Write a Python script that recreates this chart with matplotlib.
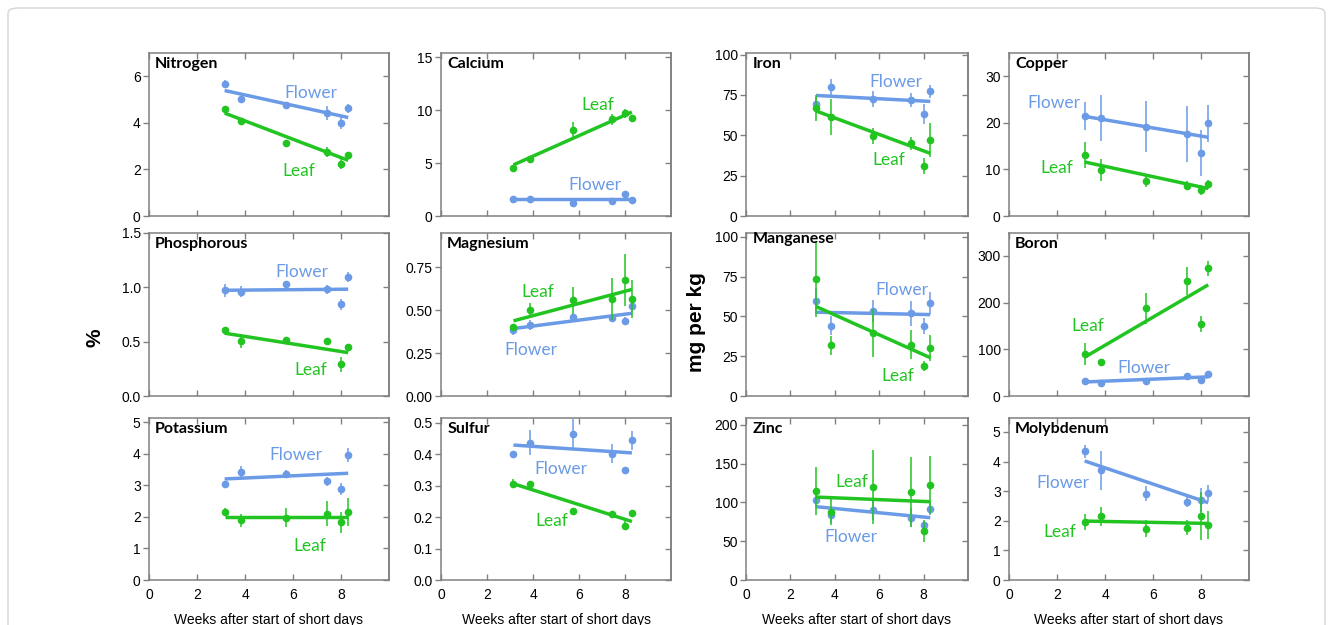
import matplotlib
matplotlib.use("Agg")
import matplotlib.pyplot as plt
from matplotlib.patches import FancyBboxPatch

plt.rcParams["font.family"] = ["Liberation Sans", "DejaVu Sans"]

# ---------------- data ----------------
weeks = [3.15, 3.85, 5.72, 7.43, 8.0, 8.3]
trend_weeks = [3.15, 8.3]
x_ticks = [0, 2, 4, 6, 8]

nitrogen_flower = [5.68, 5.03, 4.77, 4.42, 3.99, 4.62]
nitrogen_flower_err = [0.15, 0.12, 0.07, 0.3, 0.25, 0.2]
nitrogen_leaf = [4.59, 4.09, 3.12, 2.75, 2.25, 2.64]
nitrogen_leaf_err = [0.1, 0.08, 0.15, 0.2, 0.25, 0.12]
nitrogen_flower_trend = [5.39, 4.23]
nitrogen_leaf_trend = [4.42, 2.39]

calcium_flower = [1.65, 1.56, 1.27, 1.40, 2.07, 1.50]
calcium_flower_err = [0.1, 0.1, 0.1, 0.1, 0.3, 0.1]
calcium_leaf = [4.58, 5.37, 8.1, 9.12, 9.69, 9.28]
calcium_leaf_err = [0.2, 0.2, 0.8, 0.5, 0.4, 0.3]
calcium_flower_trend = [1.59, 1.59]
calcium_leaf_trend = [4.83, 9.82]

iron_flower = [69.5, 79.9, 72.4, 72.0, 63.3, 77.2]
iron_flower_err = [4, 5, 5, 4.5, 6, 4]
iron_leaf = [66.8, 61.2, 49.6, 45.0, 31.1, 47.1]
iron_leaf_err = [8, 11, 5, 4, 5, 10.5]
iron_flower_trend = [74.7, 71.0]
iron_leaf_trend = [65.1, 38.8]

copper_flower = [21.4, 21.0, 19.2, 17.7, 13.5, 19.9]
copper_flower_err = [3, 5, 5.5, 6, 5, 4]
copper_leaf = [13.1, 9.9, 7.5, 6.5, 5.6, 6.8]
copper_leaf_err = [2.7, 2.3, 1.2, 1.0, 1.0, 1.0]
copper_flower_trend = [21.4, 16.9]
copper_leaf_trend = [11.6, 5.9]

phosphorous_flower = [0.973, 0.958, 1.028, 0.983, 0.846, 1.095]
phosphorous_flower_err = [0.06, 0.05, 0.01, 0.04, 0.05, 0.05]
phosphorous_leaf = [0.608, 0.502, 0.517, 0.502, 0.292, 0.45]
phosphorous_leaf_err = [0.01, 0.06, 0.02, 0.01, 0.07, 0.03]
phosphorous_flower_trend = [0.973, 0.983]
phosphorous_leaf_trend = [0.578, 0.399]

magnesium_flower = [0.387, 0.413, 0.462, 0.452, 0.438, 0.522]
magnesium_flower_err = [0.03, 0.03, 0.01, 0.01, 0.025, 0.03]
magnesium_leaf = [0.40, 0.502, 0.558, 0.565, 0.675, 0.567]
magnesium_leaf_err = [0.02, 0.04, 0.08, 0.12, 0.15, 0.11]
magnesium_flower_trend = [0.393, 0.482]
magnesium_leaf_trend = [0.438, 0.621]

manganese_flower = [59.6, 44.1, 53.3, 52.0, 43.9, 58.5]
manganese_flower_err = [8, 6, 7, 8, 5, 7]
manganese_leaf = [73.5, 31.8, 39.8, 32.3, 18.9, 30.1]
manganese_leaf_err = [24, 6, 15, 9, 3, 8]
manganese_flower_trend = [52.7, 51.2]
manganese_leaf_trend = [56.3, 24.1]

boron_flower = [32, 27, 32, 42, 35, 47.5]
boron_flower_err = [2, 2, 2, 2, 3, 3]
boron_leaf = [90, 73, 188, 246, 154, 273]
boron_leaf_err = [24, 5, 33, 30, 17, 16]
boron_flower_trend = [30, 41]
boron_leaf_trend = [83, 238]

potassium_flower = [3.04, 3.43, 3.36, 3.12, 2.88, 3.97]
potassium_flower_err = [0.03, 0.17, 0.12, 0.15, 0.18, 0.22]
potassium_leaf = [2.15, 1.89, 1.97, 2.10, 1.83, 2.15]
potassium_leaf_err = [0.13, 0.2, 0.3, 0.4, 0.33, 0.45]
potassium_flower_trend = [3.20, 3.38]
potassium_leaf_trend = [2.0, 2.0]

sulfur_flower = [0.399, 0.436, 0.463, 0.401, 0.349, 0.444]
sulfur_flower_err = [0.01, 0.04, 0.05, 0.03, 0.01, 0.03]
sulfur_leaf = [0.306, 0.306, 0.22, 0.21, 0.173, 0.213]
sulfur_leaf_err = [0.015, 0.005, 0.01, 0.003, 0.015, 0.01]
sulfur_flower_trend = [0.429, 0.404]
sulfur_leaf_trend = [0.306, 0.186]

zinc_flower = [102.8, 83.4, 89.9, 80.4, 70.5, 92.0]
zinc_flower_err = [8, 10, 13, 12, 6, 8]
zinc_leaf = [114.8, 88, 120, 114, 63, 122.6]
zinc_leaf_err = [31, 17, 48, 45, 14, 37]
zinc_flower_trend = [94.6, 80.4]
zinc_leaf_trend = [107, 101]

molybdenum_flower = [4.34, 3.70, 2.92, 2.65, 2.70, 2.93]
molybdenum_flower_err = [0.22, 0.67, 0.25, 0.17, 0.42, 0.27]
molybdenum_leaf = [1.96, 2.16, 1.73, 1.77, 2.16, 1.85]
molybdenum_leaf_err = [0.27, 0.32, 0.28, 0.25, 0.8, 0.47]
molybdenum_flower_trend = [4.02, 2.61]
molybdenum_leaf_trend = [1.99, 1.91]

# ---------------- layout / styling ----------------
FLOWER = "#6b9ae6"
LEAF = "#22c422"
SPINE = "#808080"
W, H = 1332, 625

col_lr = [(149, 389), (441, 671), (746, 968), (1009, 1249)]
row_tb = [(53, 216), (233, 396), (418, 580)]

panels = [
    # title, flower, ferr, leaf, lerr, ftrend, ltrend, ytop, yticks, yticklabels, flower label pos, leaf label pos
    ("Nitrogen", nitrogen_flower, nitrogen_flower_err, nitrogen_leaf, nitrogen_leaf_err,
     nitrogen_flower_trend, nitrogen_leaf_trend, 7.0, [0, 2, 4, 6], ["0", "2", "4", "6"],
     (6.75, 5.3), (6.25, 1.95)),
    ("Calcium", calcium_flower, calcium_flower_err, calcium_leaf, calcium_leaf_err,
     calcium_flower_trend, calcium_leaf_trend, 15.4, [0, 5, 10, 15], ["0", "5", "10", "15"],
     (6.7, 2.9), (6.8, 10.5)),
    ("Iron", iron_flower, iron_flower_err, iron_leaf, iron_leaf_err,
     iron_flower_trend, iron_leaf_trend, 101, [0, 25, 50, 75, 100], ["0", "25", "50", "75", "100"],
     (6.75, 82.8), (6.45, 35)),
    ("Copper", copper_flower, copper_flower_err, copper_leaf, copper_leaf_err,
     copper_flower_trend, copper_leaf_trend, 35, [0, 10, 20, 30], ["0", "10", "20", "30"],
     (1.85, 24.2), (2.0, 10.2)),
    ("Phosphorous", phosphorous_flower, phosphorous_flower_err, phosphorous_leaf, phosphorous_leaf_err,
     phosphorous_flower_trend, phosphorous_leaf_trend, 1.5, [0, 0.5, 1.0, 1.5], ["0.0", "0.5", "1.0", "1.5"],
     (6.35, 1.14), (6.75, 0.237)),
    ("Magnesium", magnesium_flower, magnesium_flower_err, magnesium_leaf, magnesium_leaf_err,
     magnesium_flower_trend, magnesium_leaf_trend, 0.95, [0, 0.25, 0.5, 0.75], ["0.00", "0.25", "0.50", "0.75"],
     (3.9, 0.268), (4.2, 0.607)),
    ("Manganese", manganese_flower, manganese_flower_err, manganese_leaf, manganese_leaf_err,
     manganese_flower_trend, manganese_leaf_trend, 102.5, [0, 25, 50, 75, 100], ["0", "25", "50", "75", "100"],
     (7.0, 66.7), (6.85, 12.5)),
    ("Boron", boron_flower, boron_flower_err, boron_leaf, boron_leaf_err,
     boron_flower_trend, boron_leaf_trend, 349, [0, 100, 200, 300], ["0", "100", "200", "300"],
     (5.6, 59), (3.3, 149)),
    ("Potassium", potassium_flower, potassium_flower_err, potassium_leaf, potassium_leaf_err,
     potassium_flower_trend, potassium_leaf_trend, 5.13, [0, 1, 2, 3, 4, 5], ["0", "1", "2", "3", "4", "5"],
     (6.1, 3.97), (6.7, 1.08)),
    ("Sulfur", sulfur_flower, sulfur_flower_err, sulfur_leaf, sulfur_leaf_err,
     sulfur_flower_trend, sulfur_leaf_trend, 0.515, [0, 0.1, 0.2, 0.3, 0.4, 0.5],
     ["0.0", "0.1", "0.2", "0.3", "0.4", "0.5"],
     (5.22, 0.354), (4.83, 0.188)),
    ("Zinc", zinc_flower, zinc_flower_err, zinc_leaf, zinc_leaf_err,
     zinc_flower_trend, zinc_leaf_trend, 209, [0, 50, 100, 150, 200], ["0", "50", "100", "150", "200"],
     (4.73, 55.5), (4.78, 127)),
    ("Molybdenum", molybdenum_flower, molybdenum_flower_err, molybdenum_leaf, molybdenum_leaf_err,
     molybdenum_flower_trend, molybdenum_leaf_trend, 5.47, [0, 1, 2, 3, 4, 5], ["0", "1", "2", "3", "4", "5"],
     (2.25, 3.27), (2.1, 1.62)),
]

fig = plt.figure(figsize=(W / 100, H / 100), dpi=100)

# light figure frame
fig.patches.append(FancyBboxPatch((8 / W, -0.05), (1325 - 8) / W, 1.05 - 8 / H,
                                  boxstyle="round,pad=0,rounding_size=0.008",
                                  transform=fig.transFigure, fill=False,
                                  ec="#d5d5d5", lw=1.0))


def box(l, r, t, b):
    return [l / W, 1 - b / H, (r - l) / W, (b - t) / H]


for i, (title, fl, fle, lf, lfe, ftr, ltr, ytop, yt, ytl, fpos, lpos) in enumerate(panels):
    row, col = divmod(i, 4)
    l, r = col_lr[col]
    t, b = row_tb[row]
    ax = fig.add_axes(box(l, r, t, b))

    ax.errorbar(weeks, fl, yerr=fle, fmt="o", color=FLOWER, ms=4.5,
                elinewidth=1.1, capsize=0, zorder=3)
    ax.plot(trend_weeks, ftr, color=FLOWER, lw=2.5, solid_capstyle="butt", zorder=3)
    ax.errorbar(weeks, lf, yerr=lfe, fmt="o", color=LEAF, ms=4.5,
                elinewidth=1.1, capsize=0, zorder=4)
    ax.plot(trend_weeks, ltr, color=LEAF, lw=2.5, solid_capstyle="butt", zorder=4)

    ax.text(fpos[0], fpos[1], "Flower", color=FLOWER, fontsize=12.5,
            family=["Lato", "DejaVu Sans"], ha="center", va="center", zorder=5)
    ax.text(lpos[0], lpos[1], "Leaf", color=LEAF, fontsize=12.5,
            family=["Lato", "DejaVu Sans"], ha="center", va="center", zorder=5)

    ty = 1 if title == "Manganese" else -3
    ax.annotate(title, xy=(0, 1), xycoords="axes fraction", xytext=(4.5, ty),
                textcoords="offset points", ha="left", va="top",
                fontsize=11.5, fontweight="bold", family=["Lato", "DejaVu Sans"], zorder=6)

    ax.set_xlim(0, 10)
    ax.set_ylim(0, ytop)
    ax.set_xticks(x_ticks)
    ax.set_yticks(yt)
    ax.set_yticklabels(ytl)
    for s in ax.spines.values():
        s.set_color(SPINE)
        s.set_linewidth(1.1)
    ax.tick_params(axis="x", direction="in", top=True, length=4, width=1,
                   color=SPINE, labelsize=10, pad=6, labelbottom=(row == 2))
    ax.tick_params(axis="y", direction="out", length=4, width=1,
                   color=SPINE, labelsize=10, pad=2)
    sec = ax.secondary_yaxis("right")
    sec.set_yticks(yt)
    sec.tick_params(direction="in", length=4, width=1, color=SPINE, labelright=False)
    sec.spines["right"].set_color(SPINE)
    sec.spines["right"].set_linewidth(1.1)

    if row == 2:
        fig.text((l + r) / 2 / W, 1 - 620 / H, "Weeks after start of short days",
                 ha="center", va="center", fontsize=10)

fig.text(95 / W, 1 - 338 / H, "%", rotation=90, ha="center", va="center",
         fontsize=15, fontweight="bold")
fig.text(697 / W, 1 - 322 / H, "mg per kg", rotation=90, ha="center", va="center",
         fontsize=15, fontweight="bold")

fig.savefig("out.png", dpi=100)
